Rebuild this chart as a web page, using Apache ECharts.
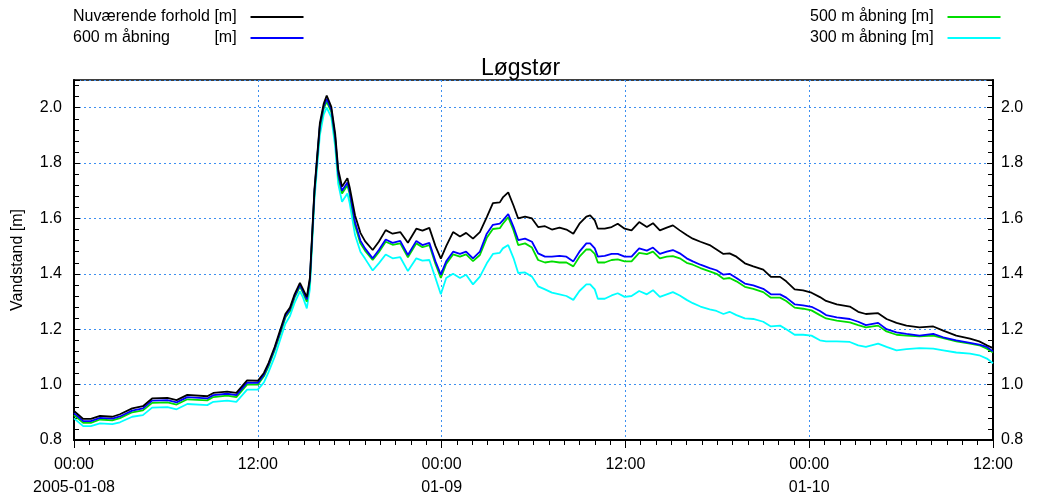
<!DOCTYPE html>
<html><head><meta charset="utf-8">
<script src="https://cdn.jsdelivr.net/npm/echarts@6/dist/echarts.min.js"></script>
<style>html,body{margin:0;padding:0;background:#fff}#c{width:1041px;height:499px}</style>
</head><body><div id="c"></div>
<script>
// Hours since 2005-01-08 00:00
const hours = [0,0.6,1.1,1.7,2.5,3,3.8,4.5,5.1,6.1,6.7,7.4,8.7,9.1,10,10.6,11.3,12,12.4,12.7,13.1,13.45,13.8,14.1,14.4,14.75,14.95,15.2,15.4,15.7,16.05,16.3,16.5,16.8,17.05,17.25,17.5,17.85,18.0,18.35,18.7,19.0,19.5,19.9,20.35,20.8,21.3,21.8,22.35,22.75,23.2,23.6,23.95,24.3,24.75,25.2,25.6,26.05,26.5,26.95,27.35,27.8,28.0,28.35,28.7,29.0,29.45,29.9,30.3,30.75,31.2,31.7,32.15,32.6,33.0,33.45,33.7,34.0,34.2,34.65,35.1,35.5,35.95,36.4,36.9,37.4,37.8,38.25,38.7,39.1,39.55,40.0,40.4,40.9,41.5,41.95,42.4,42.8,43.25,43.8,44.35,45.0,45.5,46.1,46.5,47.05,47.6,48.15,48.7,49.1,49.8,50.65,51.2,51.7,52.5,53.05,53.7,54.35,55.2,56.1,56.75,57.6,58.5,59.1,59.6,60];

const nuvaerende = [0.905,0.876,0.876,0.887,0.884,0.893,0.914,0.922,0.950,0.952,0.944,0.963,0.958,0.970,0.975,0.970,1.015,1.014,1.042,1.078,1.136,1.195,1.255,1.278,1.326,1.367,1.345,1.316,1.385,1.706,1.943,2.014,2.044,2.003,1.907,1.777,1.715,1.745,1.712,1.611,1.548,1.518,1.486,1.516,1.558,1.545,1.551,1.512,1.563,1.556,1.566,1.500,1.455,1.500,1.551,1.535,1.548,1.527,1.551,1.605,1.655,1.658,1.676,1.694,1.646,1.600,1.607,1.600,1.569,1.572,1.560,1.567,1.560,1.545,1.581,1.607,1.611,1.593,1.563,1.563,1.569,1.581,1.563,1.557,1.587,1.569,1.583,1.557,1.567,1.575,1.557,1.540,1.527,1.516,1.504,1.488,1.472,1.474,1.462,1.438,1.427,1.415,1.389,1.389,1.373,1.344,1.340,1.332,1.316,1.302,1.290,1.282,1.263,1.255,1.258,1.237,1.223,1.213,1.207,1.210,1.195,1.177,1.166,1.156,1.142,1.132];

const aabning600 = [0.897,0.868,0.868,0.880,0.877,0.885,0.906,0.914,0.942,0.944,0.936,0.955,0.950,0.962,0.967,0.962,1.007,1.006,1.036,1.072,1.130,1.188,1.248,1.272,1.320,1.360,1.338,1.308,1.378,1.700,1.935,2.005,2.032,1.993,1.895,1.763,1.700,1.730,1.697,1.585,1.520,1.492,1.456,1.486,1.524,1.512,1.519,1.468,1.519,1.504,1.512,1.445,1.397,1.445,1.480,1.472,1.480,1.456,1.480,1.545,1.577,1.581,1.593,1.616,1.569,1.522,1.527,1.516,1.474,1.462,1.462,1.465,1.462,1.445,1.480,1.510,1.510,1.492,1.462,1.465,1.472,1.472,1.462,1.462,1.492,1.484,1.495,1.472,1.480,1.486,1.474,1.456,1.445,1.433,1.421,1.413,1.397,1.400,1.385,1.365,1.358,1.346,1.326,1.326,1.314,1.290,1.286,1.281,1.266,1.251,1.243,1.237,1.227,1.215,1.223,1.200,1.189,1.183,1.177,1.183,1.171,1.160,1.151,1.144,1.136,1.120];

const aabning500 = [0.890,0.862,0.862,0.874,0.871,0.879,0.900,0.907,0.934,0.936,0.928,0.947,0.943,0.955,0.960,0.955,1.000,1.000,1.030,1.066,1.124,1.182,1.242,1.266,1.314,1.354,1.332,1.300,1.372,1.694,1.928,1.997,2.022,1.985,1.885,1.752,1.690,1.720,1.688,1.575,1.510,1.484,1.450,1.478,1.516,1.505,1.510,1.460,1.510,1.496,1.504,1.436,1.385,1.436,1.470,1.462,1.470,1.446,1.468,1.530,1.562,1.565,1.581,1.605,1.557,1.504,1.510,1.495,1.450,1.441,1.445,1.441,1.441,1.427,1.462,1.488,1.488,1.472,1.441,1.441,1.450,1.452,1.445,1.445,1.476,1.471,1.480,1.456,1.462,1.464,1.456,1.440,1.433,1.421,1.409,1.400,1.382,1.385,1.373,1.353,1.346,1.334,1.314,1.314,1.302,1.278,1.274,1.268,1.251,1.239,1.231,1.225,1.215,1.207,1.213,1.192,1.180,1.177,1.174,1.177,1.168,1.156,1.148,1.142,1.130,1.116];

const aabning300 = [0.878,0.850,0.850,0.860,0.857,0.864,0.884,0.890,0.917,0.919,0.911,0.930,0.926,0.938,0.942,0.938,0.982,0.982,1.008,1.045,1.100,1.160,1.220,1.248,1.295,1.337,1.315,1.275,1.345,1.670,1.900,1.975,2.000,1.965,1.860,1.725,1.660,1.690,1.655,1.540,1.480,1.455,1.412,1.438,1.470,1.456,1.460,1.410,1.456,1.448,1.450,1.385,1.326,1.385,1.400,1.385,1.397,1.362,1.390,1.438,1.472,1.476,1.492,1.504,1.456,1.403,1.405,1.390,1.355,1.344,1.332,1.326,1.320,1.306,1.338,1.362,1.362,1.344,1.310,1.310,1.322,1.330,1.317,1.320,1.338,1.326,1.341,1.317,1.326,1.334,1.322,1.306,1.294,1.282,1.272,1.266,1.255,1.263,1.251,1.239,1.237,1.227,1.210,1.213,1.200,1.180,1.180,1.177,1.160,1.156,1.156,1.154,1.142,1.136,1.148,1.136,1.124,1.128,1.132,1.130,1.124,1.116,1.112,1.106,1.094,1.077];

const xTickLabels = {0:'00:00\n2005-01-08',12:'12:00',24:'00:00\n01-09',36:'12:00',48:'00:00\n01-10',60:'12:00'};
const seriesNames = ['Nuværende forhold [m]','600 m åbning [m]','500 m åbning [m]','300 m åbning [m]'];
const legendLabels = {'Nuværende forhold [m]':'Nuværende forhold [m]','600 m åbning [m]':'600 m åbning          [m]','500 m åbning [m]':'500 m åbning [m]','300 m åbning [m]':'300 m åbning [m]'};
const seriesColors = ['#000000','#0000ff','#00dd00','#00ffff'];
const seriesValues = [nuvaerende, aabning600, aabning500, aabning300];

const FONT = '"Liberation Sans", Arial, sans-serif';
const gridLine = {show:true, lineStyle:{color:'#3d8ff0', width:1, type:[2,3]}};
const yLabel = v => v < 2.05 ? v.toFixed(1) : '';

const chart = echarts.init(document.getElementById('c'), null, {renderer:'canvas'});
const series = [3,2,1,0].map(i => ({
  name: seriesNames[i], type:'line', symbol:'none', smooth:false,
  lineStyle:{color:seriesColors[i], width:1.8}, itemStyle:{color:seriesColors[i]},
  data: hours.map((h,k) => [h, seriesValues[i][k]])
}));

const legendCommon = {orient:'vertical', top:9, align:'right', padding:0, icon:'rect', itemWidth:53, itemHeight:2, itemGap:5,
  formatter: n => legendLabels[n] + '  ',
  textStyle:{fontFamily:FONT, fontSize:16, lineHeight:16, color:'#000'}};

const yCommon = {type:'value', min:0.8, max:2.1, interval:0.2,
  axisLine:{show:true, lineStyle:{color:'#000', width:2}},
  axisTick:{show:true, inside:true, length:6, lineStyle:{color:'#000'}},
  minorTick:{show:true, splitNumber:5, length:5, lineStyle:{color:'#000'}}};

chart.setOption({
  animation:false,
  textStyle:{fontFamily:FONT},
  title:{text:'Løgstør', left:'center', top:52, textStyle:{fontFamily:FONT, fontSize:23, fontWeight:'normal', color:'#000'}},
  legend:[
    Object.assign({}, legendCommon, {data:seriesNames.slice(0,2), left:73}),
    Object.assign({}, legendCommon, {data:seriesNames.slice(2,4), left:810})
  ],
  grid:{left:74, right:48, top:80, bottom:54, show:true, borderColor:'#000', borderWidth:1.5},
  xAxis:[{
    type:'value', min:0, max:60, interval:12, position:'bottom',
    axisLine:{show:true, lineStyle:{color:'#000', width:2}},
    axisTick:{show:true, length:8, lineStyle:{color:'#000', width:1}},
    minorTick:{show:true, splitNumber:12, length:5, lineStyle:{color:'#000', width:1}},
    axisLabel:{margin:13, fontFamily:FONT, fontSize:16, color:'#000', lineHeight:23, formatter: v => xTickLabels[v] || ''},
    splitLine:gridLine
  }],
  yAxis:[
    Object.assign({}, yCommon, {position:'left',
      name:'Vandstand [m]', nameLocation:'middle', nameGap:48, nameRotate:90,
      nameTextStyle:{fontFamily:FONT, fontSize:16, color:'#000'},
      axisLabel:{margin:12, fontFamily:FONT, fontSize:16, color:'#000', formatter: yLabel},
      splitLine:gridLine}),
    Object.assign({}, yCommon, {position:'right',
      axisLabel:{margin:8, fontFamily:FONT, fontSize:16, color:'#000', formatter: yLabel},
      splitLine:{show:false}})
  ],
  series: series
});
</script></body></html>
